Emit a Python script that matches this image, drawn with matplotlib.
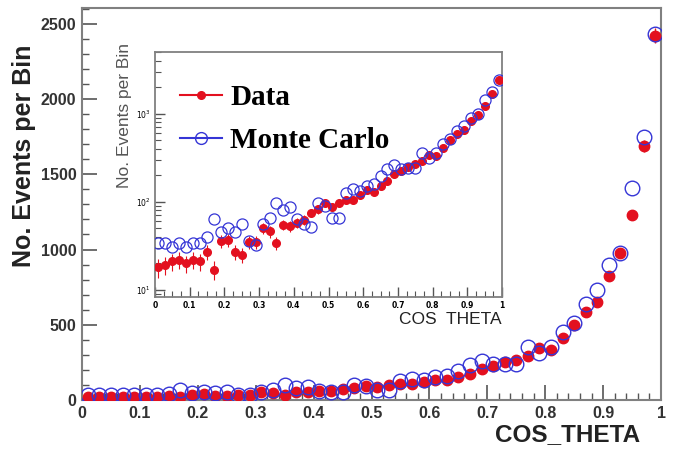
import numpy as np
import matplotlib
matplotlib.use('Agg')
import matplotlib.pyplot as plt
from matplotlib.lines import Line2D
from matplotlib.ticker import MultipleLocator, LogLocator, LogFormatterMathtext, NullFormatter

# bin centres (50 bins of width 0.02)
cos_theta = [0.01, 0.03, 0.05, 0.07, 0.09, 0.11, 0.13, 0.15, 0.17, 0.19,
             0.21, 0.23, 0.25, 0.27, 0.29, 0.31, 0.33, 0.35, 0.37, 0.39,
             0.41, 0.43, 0.45, 0.47, 0.49, 0.51, 0.53, 0.55, 0.57, 0.59,
             0.61, 0.63, 0.65, 0.67, 0.69, 0.71, 0.73, 0.75, 0.77, 0.79,
             0.81, 0.83, 0.85, 0.87, 0.89, 0.91, 0.93, 0.95, 0.97, 0.99]

data_counts = [18, 19, 21, 22, 20, 22, 21, 27, 17, 36,
               37, 27, 25, 35, 35, 50, 46, 34, 55, 53,
               58, 62, 75, 82, 96, 88, 98, 106, 106, 118,
               135, 130, 150, 170, 205, 225, 250, 268, 290, 343,
               333, 411, 499, 582, 650, 824, 975, 1230, 1690, 2420]

mc_counts = [34, 34, 31, 34, 31, 34, 34, 40, 64, 45,
             50, 45, 56, 36, 32, 56, 66, 98, 80, 88,
             63, 56, 52, 98, 90, 65, 66, 126, 138, 134,
             151, 160, 195, 235, 258, 238, 240, 240, 355, 313,
             353, 454, 515, 638, 728, 898, 980, 1410, 1750, 2432]

RED = '#e3101f'
BLUE = '#3535d6'
FRAME = '#808080'

x = np.array(cos_theta)
d = np.array(data_counts, dtype=float)
mc = np.array(mc_counts, dtype=float)
derr = np.sqrt(d)

fig = plt.figure(figsize=(6.75, 4.55), dpi=100)

# ---- main (linear) panel ----
ax = fig.add_axes([82/675, 1 - 400/455, 579/675, 392/455])
ax.errorbar(x, d, yerr=derr, fmt='o', color=RED, ms=7.5, mec=RED, elinewidth=1, capsize=0, zorder=3)
ax.plot(x, mc, 'o', mfc='none', mec=BLUE, ms=10.5, mew=1.0, zorder=4)
ax.set_xlim(0, 1)
ax.set_ylim(0, 2605)
ax.xaxis.set_major_locator(MultipleLocator(0.1))
ax.xaxis.set_minor_locator(MultipleLocator(0.02))
ax.yaxis.set_major_locator(MultipleLocator(500))
ax.yaxis.set_minor_locator(MultipleLocator(100))
ax.xaxis.set_major_formatter(plt.FuncFormatter(lambda v, p: '%g' % round(v, 1)))
ax.tick_params(which='both', direction='in', top=False, right=False, color='#555555')
ax.tick_params(which='major', length=11, width=1.2, labelsize=11.5, pad=4)
ax.tick_params(which='minor', length=5, width=1)
for lab in ax.get_xticklabels() + ax.get_yticklabels():
    lab.set_fontfamily('Liberation Sans')
    lab.set_fontweight('bold')
    lab.set_color('#333333')
for s in ax.spines.values():
    s.set_color(FRAME)
    s.set_linewidth(1.5)

ax.set_ylabel('No. Events per Bin', fontsize=18, fontweight='bold',
              family='Liberation Sans', color='#222222', loc='top')
ax.yaxis.set_label_coords(-0.08, 0.906)
ax.set_xlabel('COS_THETA', fontsize=17.5, fontweight='bold',
              family='Liberation Sans', color='#222222', loc='right')
ax.xaxis.set_label_coords(0.964, -0.06)

# ---- inset (log) panel ----
ins = fig.add_axes([155/675, 1 - 297/455, 347/675, 245/455])
ins.errorbar(x, d, yerr=derr, fmt='o', color=RED, ms=5.5, mec=RED, elinewidth=0.8, capsize=0, zorder=3)
ins.plot(x, mc, 'o', mfc='none', mec=BLUE, ms=8, mew=0.9, zorder=4)
ins.set_yscale('log')
ins.set_xlim(0, 1)
ins.set_ylim(8.3, 5000)
ins.xaxis.set_major_locator(MultipleLocator(0.1))
ins.xaxis.set_minor_locator(MultipleLocator(0.025))
ins.xaxis.set_major_formatter(plt.FuncFormatter(lambda v, p: '%g' % round(v, 1)))
ins.yaxis.set_major_locator(LogLocator(base=10))
ins.yaxis.set_minor_locator(LogLocator(base=10, subs=np.arange(2, 10)))
ins.yaxis.set_major_formatter(LogFormatterMathtext())
ins.yaxis.set_minor_formatter(NullFormatter())
ins.tick_params(which='both', direction='in', top=False, right=False, color='#555555')
ins.tick_params(which='major', length=7, width=1, labelsize=5.5, pad=3)
ins.tick_params(which='minor', length=4, width=0.8)
for lab in ins.get_xticklabels():
    lab.set_fontweight('bold')
for s in ins.spines.values():
    s.set_color(FRAME)
    s.set_linewidth(1.3)

ins.set_ylabel('No. Events per Bin', fontsize=12.5, family='Liberation Sans',
               color='#555555', loc='top')
ins.yaxis.set_label_coords(-0.065, 1.035)
ins.set_xlabel('COS  THETA', fontsize=12.5, family='Liberation Sans',
               color='#222222', loc='right')
ins.xaxis.set_label_coords(1.0, -0.06)

handles = [Line2D([], [], color=RED, lw=1.5, marker='o', ms=5.5, mec=RED),
           Line2D([], [], color=BLUE, lw=1.5, marker='o', ms=8.5, mfc='none', mec=BLUE)]
ins.legend(handles, ['Data', 'Monte Carlo'], loc='upper left',
           bbox_to_anchor=(0.03, 0.93), frameon=False, handlelength=1.45,
           handletextpad=0.28, labelspacing=0.55, borderpad=0,
           prop={'family': 'Liberation Serif', 'weight': 'bold', 'size': 21})

fig.savefig('out.png', dpi=100)
